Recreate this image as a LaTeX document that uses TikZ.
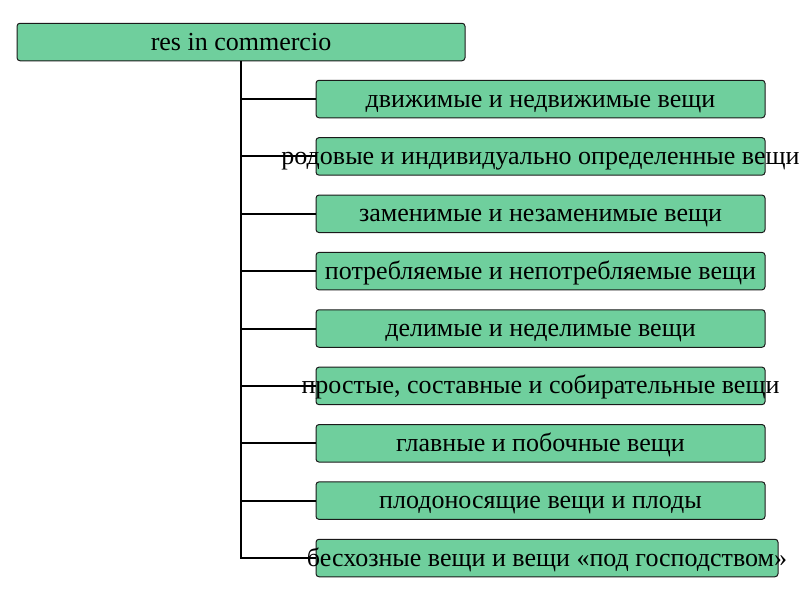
\documentclass[tikz,border=0pt]{standalone}
\usepackage{fontspec}
\setmainfont{Liberation Serif}
\definecolor{boxgreen}{HTML}{6FCF9D}
\definecolor{boxline}{HTML}{1A1A1A}
\newcommand{\overtext}[1]{\raisebox{-8pt}[0pt][0pt]{\makebox[0pt]{#1}}}
\begin{document}
\begin{tikzpicture}[x=1pt,y=-1pt,
  greenbox/.style={draw=boxline,line width=1pt,fill=boxgreen,rounded corners=3pt,
    minimum height=37.5pt,inner sep=0pt,anchor=center,
    font=\fontsize{26}{29}\selectfont},
  itembox/.style={greenbox,minimum width=449pt},
  conn/.style={draw=black,line width=2pt}]
\useasboundingbox (0,0) rectangle (800,600);
\node[greenbox,minimum width=448pt] (top) at (241,42) {\overtext{res in commercio}};
\node[itembox] (b1) at (540.5,99) {\overtext{движимые и недвижимые вещи}};
\node[itembox] (b2) at (540.5,156.4) {\overtext{родовые и индивидуально определенные вещи}};
\node[itembox] (b3) at (540.5,213.8) {\overtext{заменимые и незаменимые вещи}};
\node[itembox] (b4) at (540.5,271.1) {\overtext{потребляемые и непотребляемые вещи}};
\node[itembox] (b5) at (540.5,328.5) {\overtext{делимые и неделимые вещи}};
\node[itembox] (b6) at (540.5,385.9) {\overtext{простые, составные и собирательные вещи}};
\node[itembox] (b7) at (540.5,443.3) {\overtext{главные и побочные вещи}};
\node[itembox] (b8) at (540.5,500.6) {\overtext{плодоносящие вещи и плоды}};
\node[greenbox,minimum width=462pt] (b9) at (547,558) {\overtext{бесхозные вещи и вещи «под господством»}};
\draw[conn] (top.south) |- (b9.west);
\foreach \b in {b1,b2,b3,b4,b5,b6,b7,b8}{
  \draw[conn] (top.south |- \b.west) -- (\b.west);
}
\end{tikzpicture}
\end{document}
